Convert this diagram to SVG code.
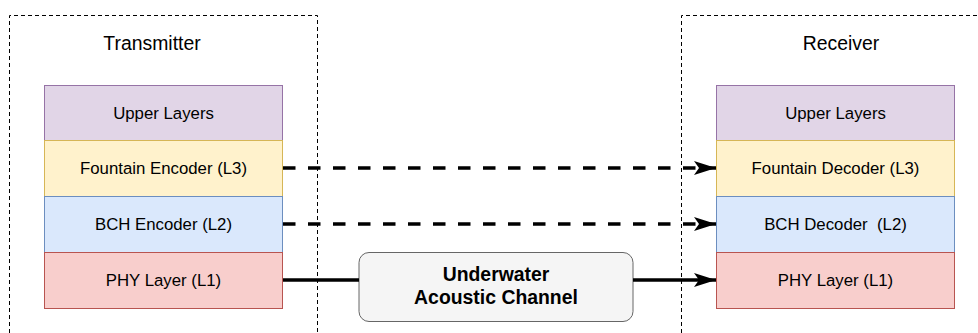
<svg xmlns="http://www.w3.org/2000/svg" width="978" height="333" viewBox="0 0 978 333">
<style>
.frame{fill:none;stroke:#000;stroke-width:1;stroke-dasharray:4 3}
.t{font-family:"Liberation Sans",Arial,sans-serif;font-size:16.8px;fill:#000;text-anchor:middle;dominant-baseline:central}
.title{font-size:19.4px}
.b{font-weight:bold;font-size:19.4px}
.up{fill:#e1d5e7;stroke:#9673a6}
.fo{fill:#fff2cc;stroke:#d6b656}
.bc{fill:#dae8fc;stroke:#6c8ebf}
.ph{fill:#f8cecc;stroke:#b85450}
.conn{fill:none;stroke:#000;stroke-width:3.6}
.dash{stroke-dasharray:12.5 12.5}
</style>
<defs>
<marker id="ah" markerUnits="userSpaceOnUse" markerWidth="24" markerHeight="16" refX="22" refY="8" orient="auto">
<path d="M0,1 L22,8 L0,15 L5,8 Z" fill="#000"/>
</marker>
</defs>
<rect width="978" height="333" fill="#fff"/>
<g id="transmitter">
<path class="frame" d="M9.5,340 V15.5 H317.5 V340"/>
<text class="t title" x="152" y="43">Transmitter</text>
</g>
<g id="receiver">
<path class="frame" d="M681.5,340 V15.5 H990"/>
<text class="t title" x="841" y="43">Receiver</text>
</g>
<g id="tx-upper"><rect class="up" x="44.5" y="85.5" width="238" height="55"/><text class="t" x="163.5" y="113">Upper Layers</text></g>
<g id="tx-fountain"><rect class="fo" x="44.5" y="140.5" width="238" height="56"/><text class="t" x="163.5" y="168">Fountain Encoder (L3)</text></g>
<g id="tx-bch"><rect class="bc" x="44.5" y="196.5" width="238" height="56"/><text class="t" x="163.5" y="224">BCH Encoder (L2)</text></g>
<g id="tx-phy"><rect class="ph" x="44.5" y="252.5" width="238" height="56"/><text class="t" x="163.5" y="280">PHY Layer (L1)</text></g>
<g id="rx-upper"><rect class="up" x="716.5" y="85.5" width="238" height="55"/><text class="t" x="835.5" y="113">Upper Layers</text></g>
<g id="rx-fountain"><rect class="fo" x="716.5" y="140.5" width="238" height="56"/><text class="t" x="835.5" y="168">Fountain Decoder (L3)</text></g>
<g id="rx-bch"><rect class="bc" x="716.5" y="196.5" width="238" height="56"/><text class="t" x="835.5" y="224" xml:space="preserve">BCH Decoder  (L2)</text></g>
<g id="rx-phy"><rect class="ph" x="716.5" y="252.5" width="238" height="56"/><text class="t" x="835.5" y="280">PHY Layer (L1)</text></g>
<g id="channel">
<rect x="359" y="252.5" width="274" height="69" rx="10" fill="#f5f5f5" stroke="#666"/>
<text class="t b" x="496" y="274">Underwater</text>
<text class="t b" x="496" y="297">Acoustic Channel</text>
</g>
<g id="connectors">
<line class="conn dash" x1="283" y1="168" x2="716" y2="168" marker-end="url(#ah)"/>
<line class="conn dash" x1="283" y1="224" x2="716" y2="224" marker-end="url(#ah)"/>
<line class="conn" x1="283" y1="280" x2="359" y2="280"/>
<line class="conn" x1="633" y1="280" x2="716" y2="280" marker-end="url(#ah)"/>
</g>
</svg>
